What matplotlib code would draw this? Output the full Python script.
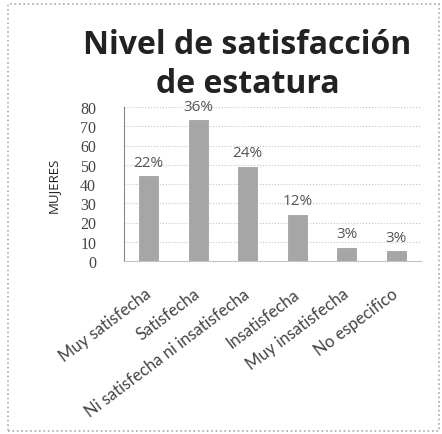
import matplotlib.pyplot as plt
from matplotlib.patches import Rectangle

categorias = ["Muy satisfecha", "Satisfecha", "Ni satisfecha ni insatisfecha",
              "Insatisfecha", "Muy insatisfecha", "No especifico"]
mujeres = [44, 73, 49, 24, 7, 5]
porcentajes = ["22%", "36%", "24%", "12%", "3%", "3%"]

fig = plt.figure(figsize=(4.42, 4.35), dpi=100)
ax = fig.add_axes([124 / 442, 1 - 262 / 435, (421 - 124) / 442, (262 - 108) / 435])

x = range(len(categorias))
bars = ax.bar(x, mujeres, width=0.39, color="#a6a6a6", edgecolor="#999999", linewidth=0.5)
for b, p in zip(bars, porcentajes):
    ax.text(b.get_x() + b.get_width() / 2, b.get_height() + 3.5, p,
            ha="center", va="bottom", fontsize=11, color="#555555", family="Open Sans")

ax.set_xlim(-0.5, len(categorias) - 0.5)
ax.set_ylim(0, 80)
ax.set_yticks(range(0, 81, 10))
ax.set_yticklabels([str(v) for v in range(0, 81, 10)], family="Liberation Serif",
                   fontsize=11.5, color="#444444")
ax.set_xticks(list(x))
ax.set_xticklabels(categorias, rotation=37, ha="right", va="center", rotation_mode="anchor",
                   fontsize=12, color="#444444", family="Lato")
ax.tick_params(axis="y", length=0, pad=20)
ax.tick_params(axis="x", length=0, pad=22)
ax.grid(axis="y", color="#c4c4c4", linestyle=":", linewidth=0.8)
ax.set_axisbelow(True)
for s in ["top", "right"]:
    ax.spines[s].set_visible(False)
ax.spines["left"].set_color("#888888")
ax.spines["bottom"].set_color("#c4c4c4")
ax.set_ylabel("MUJERES", fontsize=9.5, color="#222222", labelpad=15, family="Open Sans")

fig.text(0.56, 1 - 65 / 435, "Nivel de satisfacción\nde estatura", ha="center", va="center",
         fontsize=23, fontweight="bold", color="#222222", family="Open Sans", linespacing=1.22)

fig.patches.append(Rectangle((8 / 442, 3 / 435), 431 / 442, 427 / 435, transform=fig.transFigure,
                             fill=False, edgecolor="#aaaaaa", linewidth=1.2, linestyle=":"))

fig.savefig("out.png", dpi=100)
